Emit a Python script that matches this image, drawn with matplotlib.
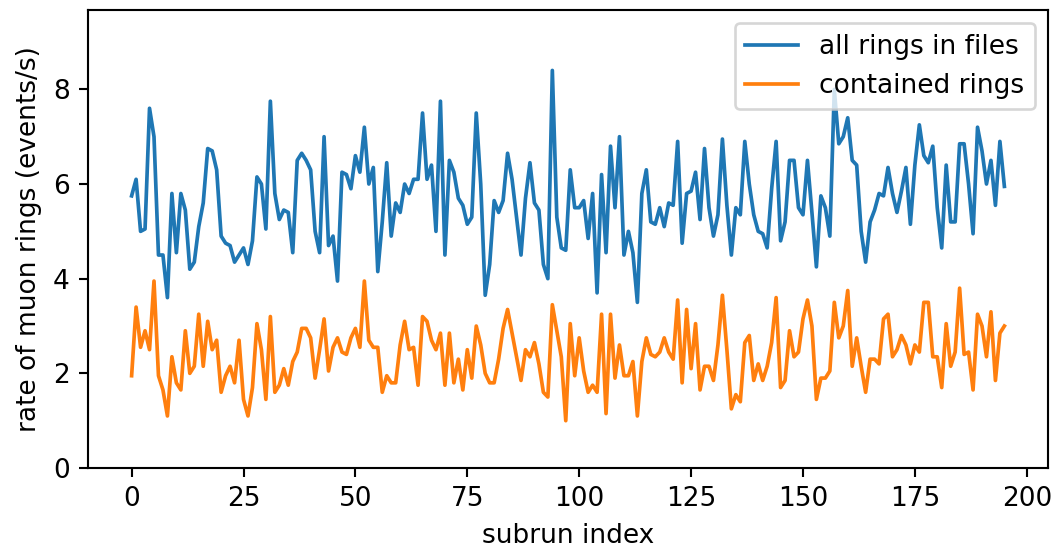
import matplotlib
matplotlib.use('Agg')
import matplotlib.pyplot as plt
import numpy as np

# rates per subrun
all_rings = [
    5.75, 6.1, 5.0, 5.05, 7.6, 7.0, 4.5, 4.5, 3.6, 5.8,
    4.55, 5.8, 5.45, 4.2, 4.35, 5.1, 5.6, 6.75, 6.7, 6.3,
    4.9, 4.75, 4.7, 4.35, 4.5, 4.65, 4.3, 4.8, 6.15, 6.0,
    5.05, 7.75, 5.8, 5.25, 5.45, 5.4, 4.55, 6.5, 6.65, 6.5,
    6.3, 5.0, 4.55, 7.0, 4.7, 4.9, 3.95, 6.25, 6.2, 5.9,
    6.6, 6.25, 7.2, 6.0, 6.35, 4.15, 5.2, 6.45, 4.9, 5.6,
    5.4, 6.0, 5.8, 6.1, 6.1, 7.5, 6.1, 6.4, 5.0, 7.75,
    4.5, 6.5, 6.25, 5.7, 5.55, 5.15, 5.3, 7.5, 6.0, 3.65,
    4.3, 5.65, 5.4, 5.65, 6.65, 6.1, 5.3, 4.5, 5.7, 6.45,
    5.6, 5.45, 4.3, 4.0, 8.4, 5.3, 4.65, 4.6, 6.3, 5.5,
    5.5, 5.65, 4.85, 5.8, 3.7, 6.2, 4.55, 6.8, 5.5, 7.0,
    4.5, 5.0, 4.55, 3.5, 5.8, 6.3, 5.2, 5.15, 5.5, 5.1,
    5.6, 5.55, 6.9, 4.75, 5.8, 5.85, 6.25, 5.25, 6.75, 5.5,
    4.9, 5.35, 6.95, 5.55, 4.5, 5.5, 5.35, 6.9, 6.0, 5.35,
    5.0, 4.95, 4.65, 5.9, 6.9, 4.8, 5.2, 6.5, 6.5, 5.5,
    5.35, 6.5, 5.4, 4.25, 5.75, 5.5, 4.9, 8.0, 6.85, 7.0,
    7.4, 6.5, 6.4, 5.0, 4.35, 5.2, 5.45, 5.8, 5.75, 6.35,
    5.8, 5.4, 5.85, 6.35, 5.15, 6.4, 7.25, 6.6, 6.45, 6.8,
    5.5, 4.65, 6.4, 5.2, 5.2, 6.85, 6.85, 6.0, 4.95, 7.2,
    6.7, 6.0, 6.5, 5.55, 6.9, 5.95,
]

contained = [
    1.95, 3.4, 2.55, 2.9, 2.5, 3.95, 1.95, 1.65, 1.1, 2.35,
    1.8, 1.65, 2.9, 2.0, 2.15, 3.25, 2.15, 3.1, 2.5, 2.7,
    1.6, 1.95, 2.15, 1.8, 2.7, 1.45, 1.1, 1.7, 3.05, 2.5,
    1.45, 3.2, 1.6, 1.75, 2.1, 1.75, 2.25, 2.45, 2.95, 2.95,
    2.75, 1.9, 2.5, 3.15, 2.05, 2.55, 2.75, 2.45, 2.4, 2.75,
    2.95, 2.55, 3.95, 2.7, 2.55, 2.55, 1.6, 1.95, 1.8, 1.8,
    2.6, 3.1, 2.5, 2.55, 1.75, 3.2, 3.1, 2.7, 2.5, 2.85,
    1.75, 2.85, 1.8, 2.3, 1.65, 2.5, 1.9, 3.0, 2.6, 2.0,
    1.8, 1.8, 2.3, 2.95, 3.35, 2.85, 2.35, 1.85, 2.5, 2.35,
    2.65, 2.2, 1.6, 1.5, 3.45, 2.9, 2.35, 1.0, 3.05, 1.95,
    2.75, 2.05, 1.6, 1.75, 1.6, 3.25, 1.15, 3.25, 1.9, 2.6,
    1.95, 1.95, 2.25, 1.1, 2.25, 2.75, 2.4, 2.35, 2.45, 2.75,
    2.45, 2.3, 3.55, 1.8, 3.35, 2.1, 3.05, 1.65, 2.15, 2.15,
    1.85, 2.6, 3.65, 2.5, 1.25, 1.55, 1.4, 2.65, 2.8, 1.85,
    2.2, 1.85, 2.15, 2.65, 3.6, 1.7, 1.85, 2.9, 2.35, 2.45,
    3.15, 3.55, 3.0, 1.45, 1.9, 1.9, 2.05, 3.5, 2.75, 3.0,
    3.75, 2.15, 2.75, 2.15, 1.6, 2.3, 2.3, 2.2, 3.15, 3.25,
    2.35, 2.5, 2.8, 2.6, 2.2, 2.6, 2.45, 3.5, 3.5, 2.35,
    2.35, 1.7, 3.05, 2.15, 2.45, 3.8, 2.4, 2.45, 1.65, 3.25,
    3.0, 2.35, 3.3, 1.85, 2.85, 3.0,
]

subrun = np.arange(len(all_rings))

# small figure saved at high dpi, default font sizes
DPI = 190
fig = plt.figure(figsize=(1060 / DPI, 549 / DPI), dpi=DPI)
ax = fig.add_axes([0.083, 0.1475, 0.9057, 0.8343])

ax.plot(subrun, all_rings, color='tab:blue', linewidth=1.4, label='all rings in files')
ax.plot(subrun, contained, color='tab:orange', linewidth=1.4, label='contained rings')

ax.set_ylim(0, max(all_rings) * 1.152)
ax.set_xlabel('subrun index')
ax.set_ylabel('rate of muon rings (events/s)')
ax.legend(loc='upper right')

fig.savefig('out.png', dpi=DPI)
